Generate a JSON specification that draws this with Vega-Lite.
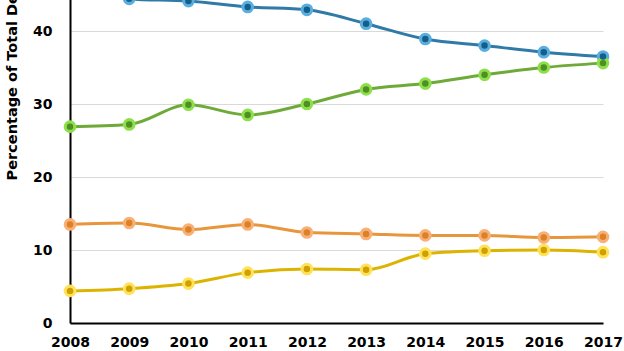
{
  "$schema": "https://vega.github.io/schema/vega-lite/v6.json",
  "autosize": "none",
  "padding": {"top": -42, "left": 70, "right": 21, "bottom": 28},
  "width": 533,
  "height": 365,
  "background": "white",
  "data": {"values": [
    {"year": 2008, "series": "S1", "value": 46.5},
    {"year": 2009, "series": "S1", "value": 44.4},
    {"year": 2010, "series": "S1", "value": 44.1},
    {"year": 2011, "series": "S1", "value": 43.3},
    {"year": 2012, "series": "S1", "value": 42.9},
    {"year": 2013, "series": "S1", "value": 41.0},
    {"year": 2014, "series": "S1", "value": 38.9},
    {"year": 2015, "series": "S1", "value": 38.0},
    {"year": 2016, "series": "S1", "value": 37.1},
    {"year": 2017, "series": "S1", "value": 36.5},
    {"year": 2008, "series": "S2", "value": 26.9},
    {"year": 2009, "series": "S2", "value": 27.2},
    {"year": 2010, "series": "S2", "value": 29.9},
    {"year": 2011, "series": "S2", "value": 28.5},
    {"year": 2012, "series": "S2", "value": 30.0},
    {"year": 2013, "series": "S2", "value": 32.0},
    {"year": 2014, "series": "S2", "value": 32.8},
    {"year": 2015, "series": "S2", "value": 34.0},
    {"year": 2016, "series": "S2", "value": 35.0},
    {"year": 2017, "series": "S2", "value": 35.6},
    {"year": 2008, "series": "S3", "value": 13.5},
    {"year": 2009, "series": "S3", "value": 13.7},
    {"year": 2010, "series": "S3", "value": 12.8},
    {"year": 2011, "series": "S3", "value": 13.5},
    {"year": 2012, "series": "S3", "value": 12.4},
    {"year": 2013, "series": "S3", "value": 12.2},
    {"year": 2014, "series": "S3", "value": 12.0},
    {"year": 2015, "series": "S3", "value": 12.0},
    {"year": 2016, "series": "S3", "value": 11.7},
    {"year": 2017, "series": "S3", "value": 11.8},
    {"year": 2008, "series": "S4", "value": 4.4},
    {"year": 2009, "series": "S4", "value": 4.7},
    {"year": 2010, "series": "S4", "value": 5.4},
    {"year": 2011, "series": "S4", "value": 6.9},
    {"year": 2012, "series": "S4", "value": 7.4},
    {"year": 2013, "series": "S4", "value": 7.3},
    {"year": 2014, "series": "S4", "value": 9.5},
    {"year": 2015, "series": "S4", "value": 9.9},
    {"year": 2016, "series": "S4", "value": 10.0},
    {"year": 2017, "series": "S4", "value": 9.7}
  ]},
  "encoding": {
    "x": {
      "field": "year", "type": "quantitative",
      "scale": {"domain": [2008, 2017], "nice": false, "zero": false},
      "axis": {
        "title": null, "values": [2008, 2009, 2010, 2011, 2012, 2013, 2014, 2015, 2016, 2017],
        "format": "d", "grid": false, "ticks": false, "labelFlush": false,
        "domainColor": "black", "domainWidth": 2,
        "labelFont": "DejaVu Sans", "labelFontWeight": "bold", "labelFontSize": 14,
        "labelColor": "black", "labelPadding": 12
      }
    },
    "y": {
      "field": "value", "type": "quantitative",
      "scale": {"domain": [0, 50], "nice": false},
      "axis": {
        "title": "Percentage of Total Deaths", "values": [0, 10, 20, 30, 40],
        "grid": true, "gridColor": "#d9d9d9", "gridWidth": 1.2, "ticks": false,
        "domainColor": "black", "domainWidth": 2,
        "labelFont": "DejaVu Sans", "labelFontWeight": "bold", "labelFontSize": 14,
        "labelColor": "black", "labelPadding": 18,
        "titleFont": "DejaVu Sans", "titleFontWeight": "bold", "titleFontSize": 14.5,
        "titleColor": "black", "titleAnchor": "end", "titlePadding": 13
      }
    }
  },
  "layer": [
    {
      "mark": {"type": "line", "interpolate": "monotone", "strokeWidth": 3},
      "encoding": {
        "color": {"field": "series", "type": "nominal", "legend": null,
          "scale": {"domain": ["S1", "S2", "S3", "S4"], "range": ["#2f7aa6", "#6daa38", "#e8963c", "#dcb400"]}}
      }
    },
    {
      "mark": {"type": "point", "filled": true, "opacity": 1, "size": 160},
      "encoding": {
        "color": {"field": "series", "type": "nominal", "legend": null,
          "scale": {"domain": ["S1", "S2", "S3", "S4"], "range": ["#5aaedf", "#8ee04a", "#f8b079", "#ffe25a"]}}
      }
    },
    {
      "mark": {"type": "point", "filled": true, "opacity": 1, "size": 42},
      "encoding": {
        "color": {"field": "series", "type": "nominal", "legend": null,
          "scale": {"domain": ["S1", "S2", "S3", "S4"], "range": ["#145e8a", "#4f8f25", "#dc8225", "#cfa000"]}}
      }
    }
  ],
  "resolve": {"scale": {"color": "independent"}},
  "config": {"view": {"stroke": null}}
}
